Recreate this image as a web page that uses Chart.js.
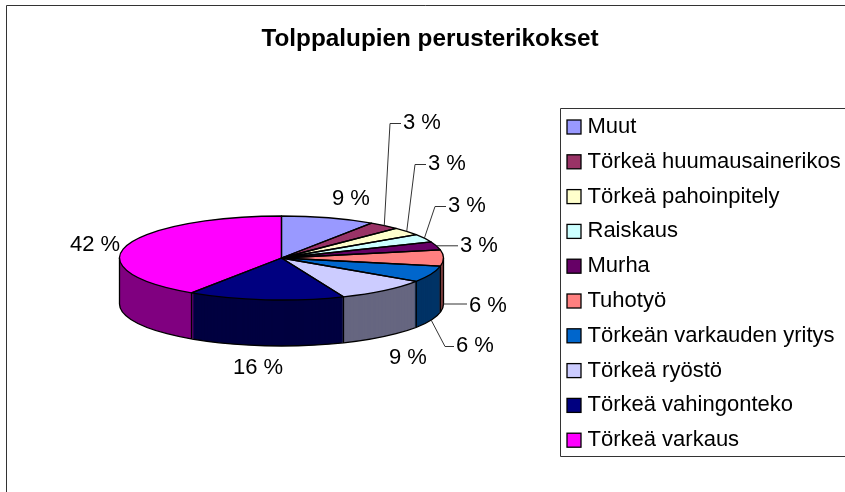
<!DOCTYPE html>
<html>
<head>
<meta charset="utf-8">
<script src="https://cdn.jsdelivr.net/npm/chart.js@4"></script>
<style>
body { margin: 0; background: #fff; }
canvas { display: block; }
</style>
</head>
<body>
<canvas id="chart" width="845" height="492"></canvas>
<script>
const categories = ['Muut', 'Törkeä huumausainerikos', 'Törkeä pahoinpitely', 'Raiskaus', 'Murha', 'Tuhotyö', 'Törkeän varkauden yritys', 'Törkeä ryöstö', 'Törkeä vahingonteko', 'Törkeä varkaus'];
const counts = [3, 1, 1, 1, 1, 2, 2, 3, 5, 13];
const percentLabels = ['9 %', '3 %', '3 %', '3 %', '3 %', '6 %', '6 %', '9 %', '16 %', '42 %'];

const topColors = ['#9999FF', '#993366', '#FFFFCC', '#CCFFFF', '#660066', '#FF8080', '#0066CC', '#CCCCFF', '#000080', '#FF00FF'];
const sideColors = ['#666680', '#4d1a33', '#808066', '#668080', '#330033', '#804040', '#003366', '#666680', '#000040', '#800080'];

// label position (left, middle) and leader elbow, in page pixels
const labelSpots = [[332, 199], [403, 123], [428, 164], [448, 206], [460, 246], [469, 306], [456, 346], [389, 358], [233, 368], [70, 245]];
const elbows = [null, [390, 123], [415, 164], [435, 206], null, null, [445, 346], null, null, null];
const leaderOnWall = [false, false, false, false, false, true, true, false, false, false];

const pie = { x: 281.5, y: 258, rx: 162, ry: 42, depth: 46 };
const legendBox = { left: 560, top: 108, bottom: 456, firstRow: 127, rowStep: 34.8, swatch: 14, swatchX: 567, textX: 587.5 };
const textFont = "22px 'Liberation Sans', Arial, sans-serif";

function squash(ctx, arc, dy) {
    const sx = pie.rx / arc.outerRadius, sy = pie.ry / arc.outerRadius;
    ctx.setTransform(sx, 0, 0, sy, pie.x - arc.x * sx, pie.y + dy - arc.y * sy);
}

const pie3d = {
    id: 'pie3d',
    beforeDraw(chart) {
        const ctx = chart.ctx;
        ctx.save();
        ctx.strokeStyle = '#333';
        ctx.lineWidth = 1;
        ctx.beginPath();
        ctx.moveTo(6.5, 492);
        ctx.lineTo(6.5, 5.5);
        ctx.lineTo(845, 5.5);
        ctx.stroke();
        ctx.restore();
    },
    beforeDatasetDraw(chart, args) {
        const ctx = chart.ctx;
        const arcs = args.meta.data;
        ctx.save();
        // the wall, stacked up from the bottom in the darker colours
        for (let dy = pie.depth; dy >= 1; dy--) {
            arcs.forEach((arc, i) => {
                const layer = Object.create(arc);
                layer.options = { ...arc.options, backgroundColor: sideColors[i] };
                squash(ctx, arc, dy);
                layer.draw(ctx);
            });
        }
        squash(ctx, arcs[0], 0);
    },
    afterDatasetDraw(chart, args) {
        const ctx = chart.ctx;
        ctx.restore();
        ctx.save();
        ctx.strokeStyle = '#000';
        ctx.lineWidth = 1.3;
        ctx.lineJoin = 'round';
        // top face outlines
        args.meta.data.forEach(arc => {
            ctx.beginPath();
            ctx.moveTo(pie.x, pie.y);
            ctx.ellipse(pie.x, pie.y, pie.rx, pie.ry, 0, arc.startAngle, arc.endAngle);
            ctx.closePath();
            ctx.stroke();
        });
        // wall outlines
        ctx.beginPath();
        ctx.ellipse(pie.x, pie.y + pie.depth, pie.rx, pie.ry, 0, 0, Math.PI);
        const edges = [0, Math.PI];
        args.meta.data.forEach(arc => {
            if (Math.sin(arc.endAngle) > 0) edges.push(arc.endAngle);
        });
        edges.forEach(a => {
            const ex = pie.x + pie.rx * Math.cos(a), ey = pie.y + pie.ry * Math.sin(a);
            ctx.moveTo(ex, ey);
            ctx.lineTo(ex, ey + pie.depth);
        });
        ctx.stroke();
        // leaders
        ctx.strokeStyle = '#333';
        ctx.lineWidth = 1;
        args.meta.data.forEach((arc, i) => {
            if (!elbows[i] && !(i === 4 || i === 5)) return;
            const mid = (arc.startAngle + arc.endAngle) / 2;
            const sx = pie.x + pie.rx * Math.cos(mid);
            const sy = pie.y + pie.ry * Math.sin(mid) + (leaderOnWall[i] ? pie.depth : 0);
            ctx.beginPath();
            ctx.moveTo(sx, sy);
            if (elbows[i]) ctx.lineTo(elbows[i][0], elbows[i][1] + 0.5);
            ctx.lineTo(labelSpots[i][0] - 2, elbows[i] ? elbows[i][1] + 0.5 : sy);
            ctx.stroke();
        });
        // percent labels
        ctx.fillStyle = '#000';
        ctx.font = textFont;
        ctx.textAlign = 'left';
        ctx.textBaseline = 'middle';
        percentLabels.forEach((t, i) => ctx.fillText(t, labelSpots[i][0], labelSpots[i][1]));
        ctx.restore();
    },
    afterDraw(chart) {
        const ctx = chart.ctx;
        const b = legendBox;
        ctx.save();
        ctx.fillStyle = '#fff';
        ctx.strokeStyle = '#333';
        ctx.lineWidth = 1;
        ctx.beginPath();
        ctx.moveTo(845, b.top + 0.5);
        ctx.lineTo(b.left + 0.5, b.top + 0.5);
        ctx.lineTo(b.left + 0.5, b.bottom + 0.5);
        ctx.lineTo(845, b.bottom + 0.5);
        ctx.stroke();
        ctx.font = textFont;
        ctx.textBaseline = 'middle';
        categories.forEach((name, i) => {
            const y = b.firstRow + i * b.rowStep;
            ctx.fillStyle = topColors[i];
            ctx.fillRect(b.swatchX, y - b.swatch / 2, b.swatch, b.swatch);
            ctx.strokeStyle = '#000';
            ctx.lineWidth = 1.3;
            ctx.strokeRect(b.swatchX, y - b.swatch / 2, b.swatch, b.swatch);
            ctx.fillStyle = '#000';
            ctx.fillText(name, b.textX, y);
        });
        ctx.restore();
    }
};

new Chart(document.getElementById('chart'), {
    type: 'pie',
    data: {
        labels: categories,
        datasets: [{
            data: counts,
            backgroundColor: topColors,
            borderWidth: 0,
            hoverOffset: 0,
            clip: false
        }]
    },
    options: {
        responsive: false,
        animation: false,
        layout: { padding: { left: 15, top: 25 } },
        plugins: {
            legend: { display: false },
            tooltip: { enabled: false },
            title: {
                display: true,
                text: 'Tolppalupien perusterikokset',
                color: '#000',
                font: { family: "'Liberation Sans', Arial, sans-serif", size: 24.3, weight: 'bold' },
                padding: 0
            }
        }
    },
    plugins: [pie3d]
});
</script>
</body>
</html>
